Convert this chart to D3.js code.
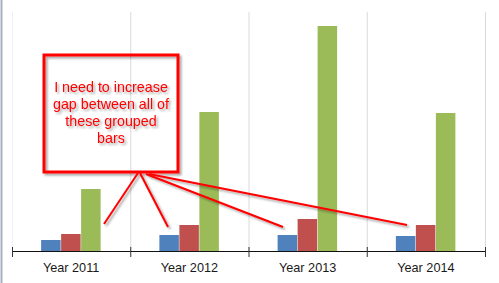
<!DOCTYPE html>
<html>
<head>
<meta charset="utf-8">
<script src="https://cdn.jsdelivr.net/npm/d3@7"></script>
<style>
  body { margin: 0; background: #fff; }
  svg { display: block; font-family: Arial, "Liberation Sans", sans-serif; }
</style>
</head>
<body>
<div id="chart"></div>
<script>
// data
var years = ["Year 2011", "Year 2012", "Year 2013", "Year 2014"];
var seriesNames = ["s1", "s2", "s3"];
var blueValues = [11, 16, 16, 15];
var redValues = [17, 26, 32, 26];
var greenValues = [62, 139, 225, 138];
var colors = ["#4f81bd", "#c0504d", "#9bbb59"];
var noteLines = ["I need to increase", "gap between all of", "these grouped", "bars"];

var W = 499, H = 283;
var margin = {top: 12, right: 14, bottom: 32, left: 12},
    width = W - margin.left - margin.right,
    height = H - margin.top - margin.bottom;

var svg = d3.select("#chart").append("svg")
    .attr("width", W)
    .attr("height", H);

var defs = svg.append("defs");
var f = defs.append("filter").attr("id", "shadow")
    .attr("x", "-20%").attr("y", "-20%").attr("width", "140%").attr("height", "140%");
f.append("feDropShadow").attr("dx", 2).attr("dy", 2).attr("stdDeviation", 1.2)
    .attr("flood-color", "#000").attr("flood-opacity", 0.35);

// left border of the frame
svg.append("line")
    .attr("x1", 1.5).attr("x2", 1.5).attr("y1", 0).attr("y2", H)
    .attr("stroke", "#a8afc2").attr("stroke-width", 2);

var g = svg.append("g")
    .attr("transform", "translate(" + margin.left + "," + margin.top + ")");

var x0 = d3.scaleBand().domain(years).range([0, width]);
var x1 = d3.scaleBand().domain(seriesNames).range([0, 60]);
var y = d3.scaleLinear().domain([0, 239]).range([height, 0]);

// vertical grid lines at band edges
var edges = years.map(function(d) { return x0(d); }).concat([width]);
g.selectAll(".grid").data(edges).enter().append("line")
    .attr("x1", function(d) { return d + 0.5; })
    .attr("x2", function(d) { return d + 0.5; })
    .attr("y1", 0).attr("y2", height)
    .attr("stroke", function(d, i) { return i == 0 ? "#efefef" : "#dadada"; });

var rows = years.map(function(yr, i) {
  return {year: yr, values: [blueValues[i], redValues[i], greenValues[i]]};
});

var groups = g.selectAll(".grp").data(rows).enter().append("g")
    .attr("transform", function(d) {
      return "translate(" + (x0(d.year) + x0.bandwidth() / 2 - 30) + ",0)";
    });

groups.selectAll("rect")
    .data(function(d) { return d.values.map(function(v, i) { return {k: seriesNames[i], v: v, c: colors[i]}; }); })
    .enter().append("rect")
    .attr("x", function(d) { return x1(d.k); })
    .attr("y", function(d) { return y(d.v); })
    .attr("width", x1.bandwidth() - 0.5)
    .attr("height", function(d) { return height - y(d.v); })
    .attr("fill", function(d) { return d.c; });

// x axis
var xAxis = g.append("g")
    .attr("transform", "translate(0," + height + ")")
    .call(d3.axisBottom(x0).tickSize(0).tickPadding(12));
xAxis.select(".domain").remove();
xAxis.selectAll("text").attr("font-size", 12.7).attr("fill", "#1a1a1a")
    .attr("font-family", "Arial, 'Liberation Sans', sans-serif");
g.append("line")
    .attr("x1", 0).attr("x2", width).attr("y1", height + 0.5).attr("y2", height + 0.5)
    .attr("stroke", "#111");
g.selectAll(".tick2").data(edges).enter().append("line")
    .attr("x1", function(d) { return d + 0.5; })
    .attr("x2", function(d) { return d + 0.5; })
    .attr("y1", height - 4).attr("y2", height + 6)
    .attr("stroke", "#333");

// annotation callout
var note = svg.append("g").attr("filter", "url(#shadow)");
note.append("rect")
    .attr("x", 44).attr("y", 55).attr("width", 134).attr("height", 117)
    .attr("fill", "none").attr("stroke", "#ff0000").attr("stroke-width", 3);

note.selectAll("text").data(noteLines).enter().append("text")
    .attr("x", 111)
    .attr("y", function(d, i) { return 92 + i * 17; })
    .attr("text-anchor", "middle")
    .attr("font-size", 14.3)
    .attr("fill", "#ff0000")
    .text(function(d) { return d; });

var pointers = [
  {x1: 138, y1: 173, x2: 104, y2: 224},
  {x1: 140, y1: 173, x2: 168, y2: 227},
  {x1: 146, y1: 174, x2: 283, y2: 227},
  {x1: 149, y1: 174, x2: 407, y2: 225}
];
note.selectAll(".ptr").data(pointers).enter().append("line")
    .attr("x1", function(d) { return d.x1; })
    .attr("y1", function(d) { return d.y1; })
    .attr("x2", function(d) { return d.x2; })
    .attr("y2", function(d) { return d.y2; })
    .attr("stroke", "#ff0000").attr("stroke-width", 2);
</script>
</body>
</html>
